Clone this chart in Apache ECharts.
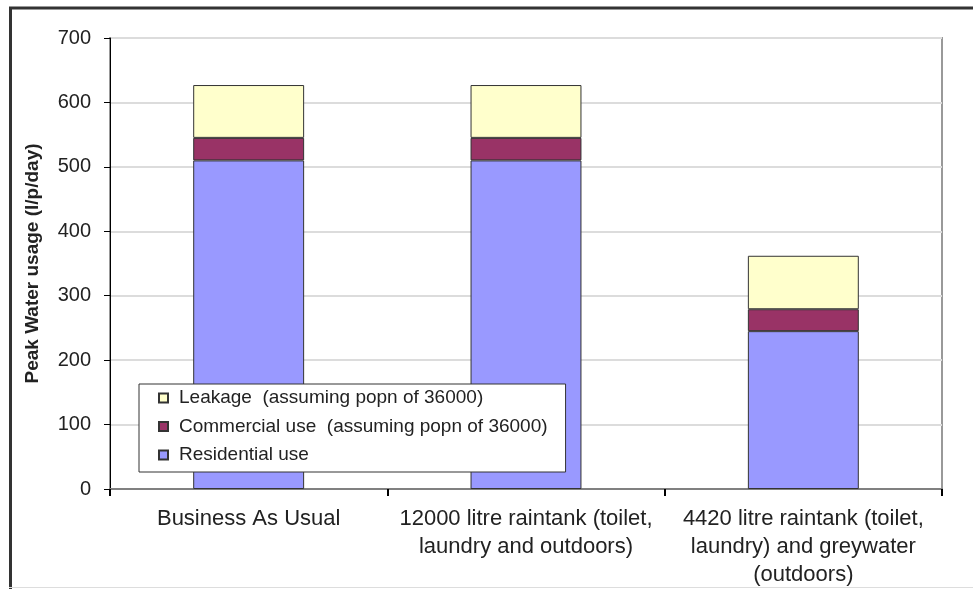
<!DOCTYPE html>
<html>
<head>
<meta charset="utf-8">
<script src="https://cdn.jsdelivr.net/npm/echarts@6/dist/echarts.min.js"></script>
<style>
html,body{margin:0;padding:0;background:#fff;}
#chart{width:973px;height:589px;}
</style>
</head>
<body>
<div id="chart"></div>
<script>
const categories = [
  "Business As Usual",
  "12000 litre raintank (toilet,\nlaundry and outdoors)",
  "4420 litre raintank (toilet,\nlaundry) and greywater\n(outdoors)"
];
const seriesNames = [
  "Residential use",
  "Commercial use  (assuming popn of 36000)",
  "Leakage  (assuming popn of 36000)"
];
const residential = [510, 510, 245];
const commercial = [35, 35, 34];
const leakage = [82, 82, 83];
const yTicks = [0, 100, 200, 300, 400, 500, 600, 700];

const colors = ["#9999FF", "#993366", "#FFFFCC"];
const values = [residential, commercial, leakage];
const FONT = "Liberation Sans, Arial, sans-serif";

const chart = echarts.init(document.getElementById('chart'));
chart.setOption({
  animation: false,
  backgroundColor: '#fff',
  textStyle: { fontFamily: FONT, color: '#222' },
  grid: { left: 110, right: 31, top: 38, bottom: 98, show: true, borderColor: '#999', borderWidth: 2, backgroundColor: 'transparent' },
  legend: {
    orient: 'vertical',
    left: 139, top: 384,
    data: [seriesNames[2], seriesNames[1], seriesNames[0]],
    backgroundColor: '#fff',
    borderColor: '#333', borderWidth: 1,
    padding: [4, 18, 7, 19],
    itemGap: 8.5,
    itemWidth: 9, itemHeight: 9,
    icon: 'rect',
    textStyle: { fontFamily: FONT, fontSize: 19, lineHeight: 20, color: '#222', padding: [0, 0, 0, 6] }
  },
  xAxis: {
    type: 'category',
    data: categories,
    axisLine: { lineStyle: { color: '#808080', width: 2 } },
    axisTick: { show: true, length: 7, lineStyle: { color: '#000', width: 2 } },
    axisLabel: { fontFamily: FONT, fontSize: 22, color: '#222', lineHeight: 28, margin: 16, interval: 0, align: 'center' },
    splitLine: { show: false }
  },
  yAxis: {
    type: 'value',
    min: yTicks[0], max: yTicks[yTicks.length - 1], interval: 100,
    name: 'Peak Water usage (l/p/day)',
    nameLocation: 'middle',
    nameRotate: 90,
    nameGap: 68,
    nameTextStyle: { fontFamily: FONT, fontSize: 19, fontWeight: 'bold', color: '#222' },
    axisLine: { show: true, lineStyle: { color: '#000', width: 1 } },
    axisTick: { show: true, length: 6, lineStyle: { color: '#000' } },
    axisLabel: { fontFamily: FONT, fontSize: 20, color: '#222', margin: 19 },
    splitLine: { show: true, lineStyle: { color: '#dcdcdc', width: 2 } }
  },
  series: seriesNames.map((n, i) => ({
    name: n,
    type: 'bar',
    stack: 'total',
    barWidth: '40%',
    data: values[i],
    itemStyle: { color: colors[i], borderColor: '#333', borderWidth: 1 }
  })),
  graphic: [
    { type: 'line', shape: { x1: 9, y1: 8, x2: 973, y2: 8 }, style: { stroke: '#333', lineWidth: 3 }, z: 100 },
    { type: 'line', shape: { x1: 10.5, y1: 7, x2: 10.5, y2: 589 }, style: { stroke: '#333', lineWidth: 3 }, z: 100 },
    { type: 'line', shape: { x1: 9, y1: 587.5, x2: 973, y2: 587.5 }, style: { stroke: '#ddd', lineWidth: 1 }, z: 100 }
  ]
});
</script>
</body>
</html>
